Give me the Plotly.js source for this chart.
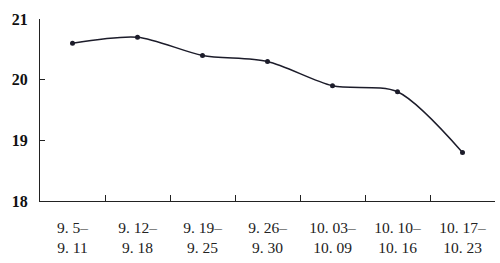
<!DOCTYPE html>
<html><head><meta charset="utf-8">
<script src="https://cdn.plot.ly/plotly-3.0.1.min.js"></script>
<style>html,body{margin:0;padding:0;background:#fff;}#chart{width:500px;height:263px;}</style>
</head><body><div id="chart"></div>
<script>
const categories = ["9. 5–<br>9. 11", "9. 12–<br>9. 18", "9. 19–<br>9. 25", "9. 26–<br>9. 30", "10. 03–<br>10. 09", "10. 10–<br>10. 16", "10. 17–<br>10. 23"];
const values = [20.6, 20.7, 20.4, 20.3, 19.9, 19.8, 18.8];
const yTicks = [18, 19, 20, 21];

const trace = {
  x: categories, y: values, type: 'scatter', mode: 'lines+markers',
  line: {shape: 'spline', smoothing: 0.8, color: '#1c1c2a', width: 1.5},
  marker: {size: 5, color: '#1c1c2a'},
  hoverinfo: 'skip'
};
const layout = {
  width: 500, height: 263,
  margin: {l: 40, r: 5, t: 19, b: 62},
  paper_bgcolor: '#fff', plot_bgcolor: '#fff',
  showlegend: false,
  font: {family: '"Liberation Serif", "DejaVu Serif", serif', color: '#222'},
  xaxis: {
    type: 'category', range: [-0.5, 6.5], tickson: 'boundaries',
    showline: true, linecolor: '#222', linewidth: 1,
    ticks: 'inside', ticklen: 6, tickcolor: '#222',
    showgrid: false, zeroline: false,
    ticklabelstandoff: 12,
    tickfont: {size: 15.5, color: '#222'}
  },
  yaxis: {
    range: [18, 21], tickvals: yTicks, ticktext: yTicks.map(String),
    showline: true, linecolor: '#222', linewidth: 1,
    ticks: 'inside', ticklen: 5, tickcolor: '#222',
    showgrid: false, zeroline: false,
    ticklabelstandoff: 8,
    tickfont: {size: 16, color: '#111', weight: 'bold'}
  }
};
Plotly.newPlot('chart', [trace], layout, {displayModeBar: false, staticPlot: true});
</script></body></html>
